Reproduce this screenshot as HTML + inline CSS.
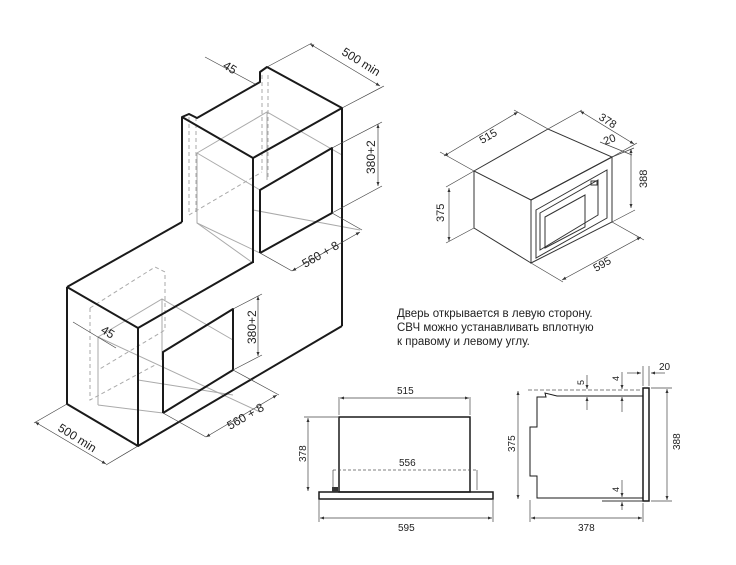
<!DOCTYPE html>
<html><head><meta charset="utf-8"><style>
html,body{margin:0;padding:0;background:#fff;}
svg{display:block;}
text{font-family:"Liberation Sans",Arial,sans-serif;fill:#222;}
.k{stroke:#1a1a1a;stroke-width:2;fill:none;stroke-linejoin:round}
.t{stroke:#333;stroke-width:1;fill:none}
.g{stroke:#aaa;stroke-width:1;fill:none}
.d{stroke:#aaa;stroke-width:1;fill:none;stroke-dasharray:4 3}
.dm{stroke:#444;stroke-width:0.7;fill:none}
</style></head><body>
<svg width="736" height="565" viewBox="0 0 736 565" xmlns="http://www.w3.org/2000/svg">
<defs><marker id="a" viewBox="0 0 8 6" refX="8" refY="3" markerWidth="6" markerHeight="5" orient="auto-start-reverse"><path d="M0,0L8,3L0,6z" fill="#333"/></marker></defs>

<!-- Upper cabinet -->
<g class="g">
<polyline points="197,153 267,112 342,155 342,190"/>
<polyline points="197,153 197,223 253,263"/>
<line x1="197" y1="153" x2="260" y2="190"/>
<line x1="197" y1="223" x2="260" y2="253"/>
<line x1="267" y1="112" x2="267" y2="180"/>
<line x1="253" y1="210" x2="360" y2="230"/>
</g>
<g class="d">
<line x1="189" y1="117" x2="189" y2="215"/>
<line x1="196" y1="117" x2="196" y2="215"/>
<line x1="262" y1="75" x2="262" y2="172"/>
<line x1="268" y1="75" x2="268" y2="178"/>
<line x1="189" y1="215" x2="262" y2="172"/>
</g>
<polyline class="k" points="182,222 182,117 189,114 197,118 260,82 260,72 267,67 342,108 342,326"/>
<polyline class="k" points="182,117 253,158 342,108"/>
<line class="k" x1="253" y1="158" x2="253" y2="263"/>
<polyline class="k" points="260,253 260,190 332,148 332,213 260,253"/>

<!-- Lower cabinet -->
<g class="g">
<polyline points="98,337 162,299 233,340"/>
<line x1="98" y1="337" x2="98" y2="405"/>
<line x1="98" y1="405" x2="163" y2="413"/>
<line x1="98" y1="337" x2="260" y2="412"/>
<line x1="162" y1="299" x2="162" y2="360"/>
<line x1="138" y1="380" x2="233" y2="395"/>
</g>
<g class="d">
<polyline points="90,308 90,400 155,365"/>
<polyline points="90,308 155,267 165,272 165,330 98,370"/>
</g>
<polyline class="k" points="67,287 182,222"/>
<polyline class="k" points="67,287 67,404 138,446 138,328 67,287"/>
<polyline class="k" points="138,328 253,262"/>
<line class="k" x1="138" y1="446" x2="342" y2="326"/>
<polyline class="k" points="163,413 163,352 233,309 233,370 163,413"/>

<!-- dims upper -->
<line class="dm" x1="205" y1="57" x2="255" y2="84"/>
<text x="222" y="72" font-size="12" transform="rotate(32 230 70)">45</text>
<line class="dm" x1="267" y1="67" x2="312" y2="43"/>
<line class="dm" x1="342" y1="108" x2="384" y2="86"/>
<line class="dm" x1="310" y1="44" x2="380" y2="86" marker-start="url(#a)" marker-end="url(#a)"/>
<text x="338" y="60" font-size="12" transform="rotate(32 350 62)">500 min</text>
<line class="dm" x1="332" y1="148" x2="382" y2="122"/>
<line class="dm" x1="332" y1="213" x2="382" y2="186"/>
<line class="dm" x1="378" y1="124" x2="378" y2="186" marker-start="url(#a)" marker-end="url(#a)"/>
<text x="0" y="0" font-size="12" transform="translate(375,174) rotate(-90)">380+2</text>
<line class="dm" x1="260" y1="253" x2="292" y2="271"/>
<line class="dm" x1="332" y1="213" x2="362" y2="230"/>
<line class="dm" x1="292" y1="271" x2="360" y2="232" marker-start="url(#a)" marker-end="url(#a)"/>
<text x="0" y="0" font-size="12" transform="translate(305,268) rotate(-30)">560 + 8</text>

<!-- dims lower -->
<line class="dm" x1="73" y1="322" x2="116" y2="348"/>
<text x="0" y="0" font-size="12" transform="translate(100,332) rotate(32)">45</text>
<line class="dm" x1="163" y1="413" x2="206" y2="437"/>
<line class="dm" x1="233" y1="370" x2="279" y2="395"/>
<line class="dm" x1="206" y1="437" x2="277" y2="395" marker-start="url(#a)" marker-end="url(#a)"/>
<text x="0" y="0" font-size="12" transform="translate(230,430) rotate(-30)">560 + 8</text>
<line class="dm" x1="233" y1="309" x2="262" y2="294"/>
<line class="dm" x1="233" y1="370" x2="262" y2="355"/>
<line class="dm" x1="258" y1="296" x2="258" y2="356" marker-start="url(#a)" marker-end="url(#a)"/>
<text x="0" y="0" font-size="12" transform="translate(256,344) rotate(-90)">380+2</text>
<line class="dm" x1="67" y1="404" x2="34" y2="423"/>
<line class="dm" x1="138" y1="446" x2="106" y2="465"/>
<line class="dm" x1="35" y1="422" x2="106" y2="464" marker-start="url(#a)" marker-end="url(#a)"/>
<text x="0" y="0" font-size="12" transform="translate(57,430) rotate(32)">500 min</text>

<!-- Microwave 3D -->
<polygon class="t" points="474,171 548,129 612,157 531,200"/>
<polyline class="t" points="474,171 474,228 531,263"/>
<polygon class="t" points="531,200 612,157 612,222 531,263"/>
<polygon class="t" points="536,210 607,170 607,218 536,258"/>
<polygon class="t" points="540,213 598,180 598,215 540,250"/>
<polygon class="t" points="545,217 585,195 585,227 545,248"/>
<rect x="591" y="181" width="6" height="4" class="t"/>
<line class="dm" x1="474" y1="171" x2="440" y2="152"/>
<line class="dm" x1="548" y1="129" x2="514" y2="110"/>
<line class="dm" x1="444" y1="156" x2="518" y2="112" marker-start="url(#a)" marker-end="url(#a)"/>
<text x="0" y="0" font-size="11" transform="translate(482,144) rotate(-30)">515</text>
<line class="dm" x1="548" y1="129" x2="582" y2="110"/>
<line class="dm" x1="612" y1="157" x2="637" y2="143"/>
<line class="dm" x1="580" y1="111" x2="634" y2="144" marker-start="url(#a)" marker-end="url(#a)"/>
<text x="0" y="0" font-size="11" transform="translate(598,119) rotate(32)">378</text>
<line class="dm" x1="600" y1="142" x2="632" y2="155"/>
<text x="0" y="0" font-size="11" transform="translate(605,145) rotate(-20)">20</text>
<line class="dm" x1="612" y1="157" x2="634" y2="148"/>
<line class="dm" x1="612" y1="222" x2="635" y2="210"/>
<line class="dm" x1="631" y1="149" x2="631" y2="208" marker-start="url(#a)" marker-end="url(#a)"/>
<text x="0" y="0" font-size="11" transform="translate(647,188) rotate(-90)">388</text>
<line class="dm" x1="474" y1="171" x2="446" y2="187"/>
<line class="dm" x1="474" y1="228" x2="446" y2="243"/>
<line class="dm" x1="449" y1="188" x2="449" y2="241" marker-start="url(#a)" marker-end="url(#a)"/>
<text x="0" y="0" font-size="11" transform="translate(444,222) rotate(-90)">375</text>
<line class="dm" x1="531" y1="263" x2="563" y2="282"/>
<line class="dm" x1="612" y1="222" x2="644" y2="240"/>
<line class="dm" x1="562" y1="280" x2="641" y2="237" marker-start="url(#a)" marker-end="url(#a)"/>
<text x="0" y="0" font-size="11" transform="translate(596,272) rotate(-30)">595</text>

<!-- text -->
<text x="397" y="317" font-size="11.5">Дверь открывается в левую сторону.</text>
<text x="397" y="331" font-size="11.5">СВЧ можно устанавливать вплотную</text>
<text x="397" y="345" font-size="11.5">к правому и левому углу.</text>

<!-- Front view -->
<rect x="339" y="417" width="131" height="75" style="stroke:#1a1a1a;stroke-width:1.5;fill:none"/>
<rect x="319" y="492" width="174" height="7" style="stroke:#1a1a1a;stroke-width:1.5;fill:none"/>
<rect x="332" y="487" width="6" height="5" fill="#333"/>
<line class="dm" x1="339" y1="415" x2="339" y2="397"/>
<line class="dm" x1="470" y1="415" x2="470" y2="397"/>
<line class="dm" x1="340" y1="398" x2="469" y2="398" marker-start="url(#a)" marker-end="url(#a)"/>
<text x="397" y="394" font-size="10">515</text>
<line x1="333" y1="470" x2="477" y2="470" stroke="#555" stroke-width="0.7" stroke-dasharray="3 2"/>
<line class="dm" x1="333" y1="470" x2="333" y2="490"/>
<line class="dm" x1="477" y1="470" x2="477" y2="490"/>
<text x="399" y="466" font-size="10">556</text>
<line class="dm" x1="304" y1="417" x2="338" y2="417"/>
<line class="dm" x1="308" y1="418" x2="308" y2="491" marker-start="url(#a)" marker-end="url(#a)"/>
<text x="0" y="0" font-size="10" transform="translate(306,462) rotate(-90)">378</text>
<line class="dm" x1="319" y1="500" x2="319" y2="522"/>
<line class="dm" x1="493" y1="500" x2="493" y2="522"/>
<line class="dm" x1="320" y1="518" x2="492" y2="518" marker-start="url(#a)" marker-end="url(#a)"/>
<text x="398" y="531" font-size="10">595</text>

<!-- Side view -->
<rect x="643" y="388" width="6" height="113" style="stroke:#1a1a1a;stroke-width:1.5;fill:none"/>
<polyline style="stroke:#1a1a1a;stroke-width:1;fill:none" points="643,396 557,396 545,393 546,397 537,397 537,427 530,427 530,476 537,476 537,498 643,498"/>
<line x1="602" y1="501" x2="643" y2="501" stroke="#333"/>
<line x1="528" y1="390" x2="643" y2="390" stroke="#555" stroke-width="0.7" stroke-dasharray="4 2"/>
<line class="dm" x1="518" y1="391" x2="518" y2="499" marker-start="url(#a)" marker-end="url(#a)"/>
<text x="0" y="0" font-size="10" transform="translate(515,452) rotate(-90)">375</text>
<line class="dm" x1="530" y1="500" x2="530" y2="522"/>
<line class="dm" x1="643" y1="503" x2="643" y2="522"/>
<line class="dm" x1="531" y1="518" x2="642" y2="518" marker-start="url(#a)" marker-end="url(#a)"/>
<text x="578" y="531" font-size="10">378</text>
<line class="dm" x1="651" y1="388" x2="672" y2="388"/>
<line class="dm" x1="651" y1="501" x2="672" y2="501"/>
<line class="dm" x1="667" y1="389" x2="667" y2="500" marker-start="url(#a)" marker-end="url(#a)"/>
<text x="0" y="0" font-size="10" transform="translate(680,450) rotate(-90)">388</text>
<line class="dm" x1="587" y1="375" x2="587" y2="389" marker-end="url(#a)"/>
<line class="dm" x1="587" y1="410" x2="587" y2="397" marker-end="url(#a)"/>
<text x="0" y="0" font-size="9" transform="translate(584,385) rotate(-90)">5</text>
<line class="dm" x1="622" y1="372" x2="622" y2="389" marker-end="url(#a)"/>
<line class="dm" x1="622" y1="412" x2="622" y2="397" marker-end="url(#a)"/>
<text x="0" y="0" font-size="9" transform="translate(619,381) rotate(-90)">4</text>
<line class="dm" x1="622" y1="480" x2="622" y2="497" marker-end="url(#a)"/>
<line class="dm" x1="622" y1="510" x2="622" y2="502" marker-end="url(#a)"/>
<text x="0" y="0" font-size="9" transform="translate(619,492) rotate(-90)">4</text>
<line class="dm" x1="627" y1="373" x2="641" y2="373" marker-end="url(#a)"/>
<line class="dm" x1="643" y1="366" x2="643" y2="386"/>
<line class="dm" x1="649" y1="366" x2="649" y2="386"/>
<line class="dm" x1="665" y1="373" x2="651" y2="373" marker-end="url(#a)"/>
<text x="659" y="370" font-size="10">20</text>
</svg>
</body></html>
